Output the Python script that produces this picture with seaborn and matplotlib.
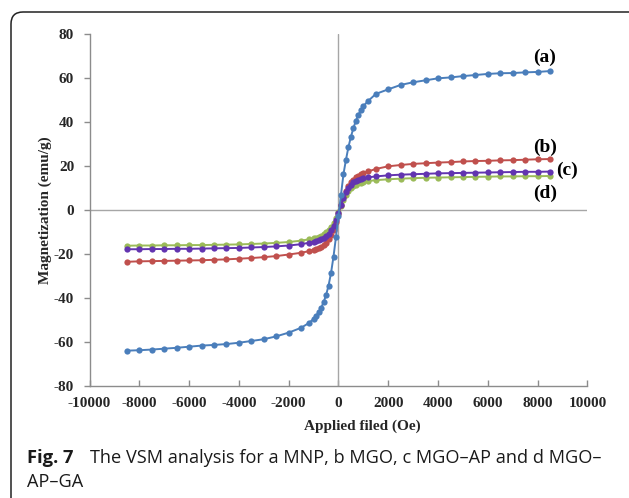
import numpy as np
import pandas as pd
import matplotlib
matplotlib.use("Agg")
import matplotlib.pyplot as plt
import seaborn as sns
from matplotlib.patches import FancyBboxPatch
from matplotlib.transforms import IdentityTransform

# --- data (Oe, emu/g) ---
field = [-8500, -8000, -7500, -7000, -6500, -6000, -5500, -5000, -4500, -4000,
         -3500, -3000, -2500, -2000, -1500, -1200, -1000, -900, -800, -700,
         -600, -500, -400, -300, -200, -100, 0, 100, 200, 300,
         400, 500, 600, 700, 800, 900, 1000, 1200, 1500, 2000,
         2500, 3000, 3500, 4000, 4500, 5000, 5500, 6000, 6500, 7000,
         7500, 8000, 8500]
mag_a = [-63.8, -63.6, -63.3, -62.9, -62.5, -62.0, -61.5, -61.2, -60.8, -60.2,
         -59.4, -58.6, -57.3, -55.6, -53.4, -51.3, -49.4, -48.0, -46.4, -44.4,
         -41.8, -38.6, -34.2, -28.5, -21.0, -12.0, -2.5, 7.0, 16.5, 23.0,
         28.8, 33.5, 37.4, 40.8, 43.4, 45.6, 47.4, 49.8, 52.9, 55.0,
         57.0, 58.2, 59.1, 60.0, 60.4, 61.0, 61.5, 62.0, 62.3, 62.4,
         62.7, 62.9, 63.3]
mag_b = [-23.4, -23.2, -23.1, -23.0, -22.9, -22.8, -22.7, -22.5, -22.3, -22.0,
         -21.7, -21.3, -20.8, -20.1, -19.3, -18.6, -18.0, -17.6, -17.1, -16.5,
         -15.7, -14.7, -13.2, -11.3, -8.8, -5.5, -1.5, 2.5, 6.0, 8.8,
         11.0, 12.7, 14.0, 15.0, 15.8, 16.4, 16.9, 17.7, 18.8, 20.0,
         20.6, 21.1, 21.4, 21.7, 21.9, 22.2, 22.4, 22.5, 22.7, 22.8,
         23.0, 23.2, 23.3]
mag_c = [-17.7, -17.7, -17.6, -17.6, -17.5, -17.5, -17.4, -17.3, -17.2, -17.1,
         -16.9, -16.7, -16.4, -16.0, -15.4, -14.8, -14.3, -14.0, -13.6, -13.1,
         -12.5, -11.7, -10.6, -9.1, -7.0, -4.3, -1.0, 2.3, 5.5, 8.2,
         10.2, 11.7, 12.7, 13.4, 13.9, 14.3, 14.6, 15.0, 15.4, 15.9,
         16.2, 16.4, 16.6, 16.8, 16.9, 17.0, 17.1, 17.2, 17.3, 17.4,
         17.5, 17.5, 17.6]
mag_d = [-16.1, -16.0, -16.0, -15.9, -15.9, -15.8, -15.8, -15.7, -15.6, -15.5,
         -15.3, -15.1, -14.8, -14.4, -13.8, -13.2, -12.7, -12.4, -12.0, -11.5,
         -10.8, -10.0, -9.0, -7.7, -5.9, -3.6, -0.8, 1.9, 4.6, 6.9,
         8.7, 10.0, 11.0, 11.7, 12.2, 12.6, 12.9, 13.3, 13.7, 14.1,
         14.4, 14.6, 14.8, 14.9, 15.0, 15.1, 15.2, 15.3, 15.4, 15.4,
         15.5, 15.5, 15.6]

labels = ["(a)", "(b)", "(c)", "(d)"]
x_ticks = [-10000, -8000, -6000, -4000, -2000, 0, 2000, 4000, 6000, 8000, 10000]
y_ticks = [-80, -60, -40, -20, 0, 20, 40, 60, 80]

df = pd.concat([
    pd.DataFrame({"H": field, "M": m, "sample": lab})
    for m, lab in zip([mag_a, mag_b, mag_c, mag_d], labels)
])

palette = {"(a)": "#4a7ebb", "(b)": "#c0504d", "(c)": "#6234b0", "(d)": "#9bbb59"}

sns.set_theme(style="white")
serif = "Liberation Serif"

fig = plt.figure(figsize=(6.29, 4.98), dpi=100)
ax = fig.add_axes([0.1423, 0.2243, 0.7917, 0.7068])

ax.axhline(0, color="#a6a6a6", lw=1.0, zorder=1)
ax.axvline(0, color="#a6a6a6", lw=1.0, zorder=1)

sns.lineplot(data=df, x="H", y="M", hue="sample", hue_order=["(d)", "(b)", "(c)", "(a)"],
             palette=palette, marker="o", markersize=4.5, markeredgewidth=0,
             linewidth=1.4, sort=False, legend=False, ax=ax, zorder=3)

ax.set_xlim(-10000, 10000)
ax.set_ylim(-80, 80)
ax.set_xticks(x_ticks)
ax.set_xticklabels([str(v) for v in x_ticks])
ax.set_yticks(y_ticks)
ax.set_yticklabels([str(v) for v in y_ticks])

for side in ["top", "right"]:
    ax.spines[side].set_visible(False)
for side in ["left", "bottom"]:
    ax.spines[side].set_color("#8c8c8c")
    ax.spines[side].set_linewidth(1.0)

ax.tick_params(axis="y", direction="out", length=4, width=1, color="#8c8c8c", pad=7,
               left=True, labelsize=11)
ax.tick_params(axis="x", direction="in", length=4, width=1, color="#8c8c8c", pad=8,
               bottom=True, labelsize=11)
for lab in ax.get_xticklabels() + ax.get_yticklabels():
    lab.set_fontfamily(serif)
    lab.set_fontweight("bold")

ax.set_xlabel("Applied filed (Oe)", fontfamily=serif, fontweight="bold", fontsize=11)
ax.set_ylabel("Magnetization (emu/g)", fontfamily=serif, fontweight="bold", fontsize=11)
ax.xaxis.set_label_coords(0.547, -0.093)
ax.yaxis.set_label_coords(-0.076, 0.5)

# curve labels
for lab, (tx, ty) in zip(labels, [(8260, 69.5), (8300, 28.6), (9180, 18.3), (8300, 7.8)]):
    ax.text(tx, ty, lab, fontfamily=serif, fontweight="bold", fontsize=14,
            ha="center", va="center", color="black")

# caption
fig.text(27 / 629, 1 - 463 / 498, "Fig. 7", fontfamily="Open Sans", fontweight="bold",
         fontsize=13.2, va="baseline", ha="left", color="#1a1a1a")
fig.text(90 / 629, 1 - 463 / 498, "The VSM analysis for a MNP, b MGO, c MGO\u2013AP and d MGO\u2013",
         fontfamily="Open Sans", fontsize=13.1, va="baseline", ha="left", color="#1a1a1a")
fig.text(27 / 629, 1 - 487 / 498, "AP\u2013GA", fontfamily="Open Sans", fontsize=13.1,
         va="baseline", ha="left", color="#1a1a1a")

# rounded frame
frame = FancyBboxPatch((11, -60), 700, 498 - 12 + 60, boxstyle="round,pad=0,rounding_size=12",
                       transform=IdentityTransform(), fill=False, edgecolor="#222222", lw=1.1)
fig.patches.append(frame)

fig.savefig("out.png", dpi=100)
